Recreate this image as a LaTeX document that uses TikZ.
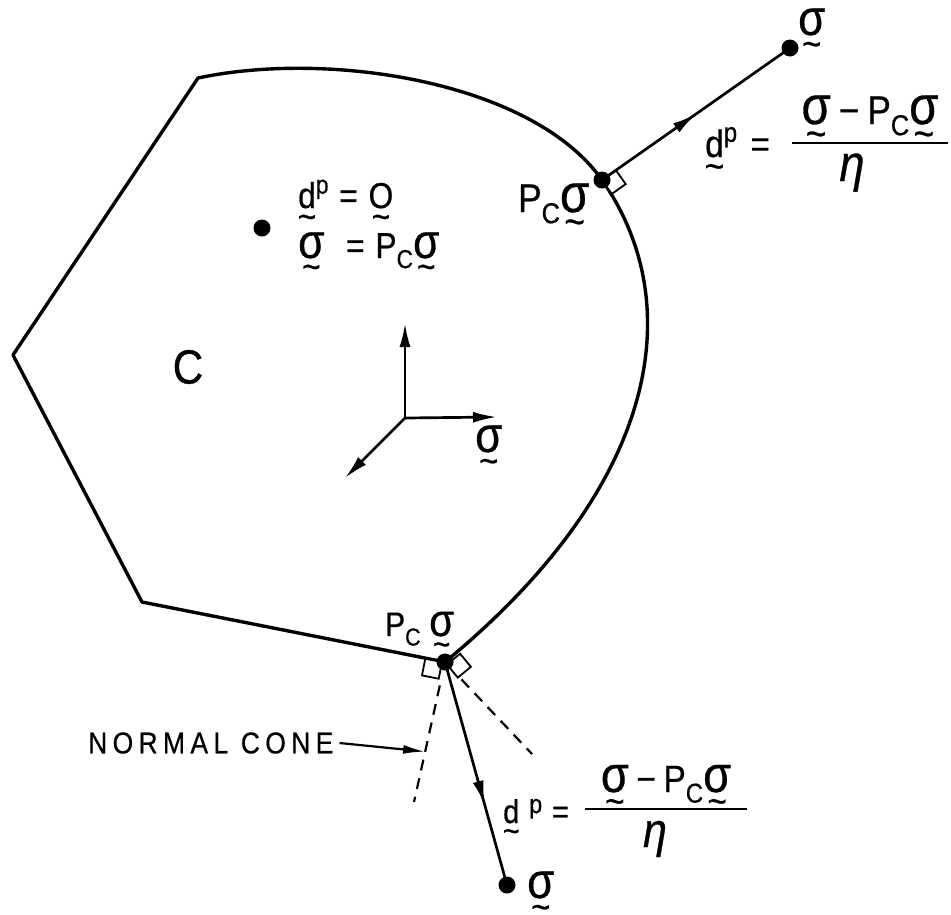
\documentclass[tikz,border=0pt]{standalone}
\usepackage{fontspec}
\setmainfont{Liberation Sans}[FakeStretch=0.88, FakeBold=0.6]
\usepackage{graphicx}
\usetikzlibrary{arrows.meta,decorations.markings,calc}
\newsavebox\vtlbox
\newcommand\vtl[1]{\sbox\vtlbox{#1}\rlap{\makebox[\wd\vtlbox]{\raisebox{-0.58em}{\textasciitilde}}}\usebox\vtlbox}
\newcommand\gk[1]{\scalebox{1.35}{#1}}
\newcommand\vs{\vtl{\gk{σ}}}
\newcommand\Pc{P\raisebox{-0.28em}{\scalebox{0.72}{C}}}
\newcommand\dP{\vtl{d}\raisebox{0.4em}{\scalebox{0.72}{p}}}
\newcommand\fs[1]{\fontsize{#1}{#1}\selectfont}
\tikzset{
  lab/.style={inner sep=0pt, anchor=base west},
  dot/.style={circle, fill=black, inner sep=0pt, minimum size=17pt},
  edge/.style={line width=3.4pt, line join=round},
  vec/.style={line width=2.7pt},
  conel/.style={line width=2.2pt, dash pattern=on 11pt off 8pt},
  sq/.style={line width=1.8pt, fill=white, line join=miter},
  bar/.style={line width=2.4pt},
  midarrow/.style={postaction={decorate}, decoration={markings,
    mark=at position #1 with {\arrow{Latex[length=24pt,width=11pt]}}}},
  tipped/.style={-{Latex[length=24pt,width=11pt]}}
}
\begin{document}
\begin{tikzpicture}[x=1pt,y=-1pt]
\path[fill=white,use as bounding box] (0,0) rectangle (951,914);
% convex set C
\draw[edge] (445,662) -- (142,602) -- (13,355) -- (198,78)
  .. controls (330,50) and (533,82) .. (602,180)
  .. controls (688,303) and (661,484) .. (445,662) -- cycle;
% right-angle squares
\draw[sq] (602,180) -- (615.9,170.2) -- (625.7,184.1) -- (611.8,193.9) -- cycle;
\draw[sq] (442,662) -- (425.3,658.7) -- (422.0,675.4) -- (438.7,678.7) -- cycle;
\draw[sq] (447,664.5) -- (460.1,653.7) -- (470.9,666.8) -- (457.8,677.6) -- cycle;
% points
\node[dot] (in) at (262,228) {};
\node[dot] (pc1) at (602,180) {};
\node[dot] (s1) at (790,48) {};
\node[dot] (V) at (445,662) {};
\node[dot] (s2) at (507,885) {};
\coordinate (cl) at (414,802);
\coordinate (cr) at (532,754);
% normal cone
\draw[conel] ($(V)!24pt!(cl)$) -- (cl);
\draw[conel] ($(V)!24pt!(cr)$) -- (cr);
% projection vectors
\draw[vec, midarrow=0.5] (pc1.center) -- (s1.center);
\draw[vec, midarrow=0.64] (V.center) -- (s2.center);
% axes
\coordinate (ax) at (405,418);
\coordinate (axu) at (405,323);
\coordinate (axr) at (497,417);
\coordinate (axd) at (345,478);
\draw[vec, tipped] (ax) -- (axu);
\draw[vec, tipped] (ax) -- (axr);
\draw[vec, tipped] (ax) -- (axd);
% labels
\node[inner sep=0pt] (lc) at (188,367) {\fs{48}C};
\node[lab] (l1) at (298,208) {\fs{36}\dP\hspace{0.3em}=\hspace{0.3em}\vtl{O}};
\node[lab] (l2) at (298,258) {\fs{36}\vs\hspace{0.6em}=\hspace{0.3em}\Pc\vs};
\node[lab] (lpc1) at (518,212) {\fs{40}\Pc\vs};
\node[lab] (lpc2) at (385,636) {\fs{34}\Pc\hspace{0.25em}\vs};
\node[lab] (ls1) at (798,35) {\fs{37}\vs};
\node[lab] (ls2) at (527,898) {\fs{37}\vs};
\node[lab] (lax) at (475,452) {\fs{37}\vs};
% upper formula
\node[lab] (d1) at (705,157) {\fs{38}\dP\hspace{0.35em}=};
\node[inner sep=0pt, anchor=base] (n1) at (870,124) {\fs{40}\vs\hspace{0.2em}−\hspace{0.2em}\Pc\vs};
\draw[bar] (792,143) -- (948,143);
\node[inner sep=0pt, anchor=base] (e1) at (852,181) {\fs{38}\gk{\itshape η}};
% lower formula
\node[lab] (d2) at (503,823) {\fs{33}\vtl{d}\hspace{0.3em}\raisebox{0.3em}{\scalebox{0.8}{p}}\hspace{0.3em}=};
\node[inner sep=0pt, anchor=base] (n2) at (666,792) {\fs{38}\vs\hspace{0.2em}−\hspace{0.2em}\Pc\vs};
\draw[bar] (585,809) -- (747,809);
\node[inner sep=0pt, anchor=base] (e2) at (655,847) {\fs{36}\gk{\itshape η}};
% normal cone label
\node[inner sep=0pt, anchor=west] (nc) at (88,743) {\fs{30}\addfontfeatures{LetterSpace=18}NORMAL CONE};
\draw[line width=2.2pt, -{Latex[length=22pt,width=9pt]}] ([xshift=6pt]nc.east) -- ($(V)!0.64!(cl)$);
\end{tikzpicture}
\end{document}
